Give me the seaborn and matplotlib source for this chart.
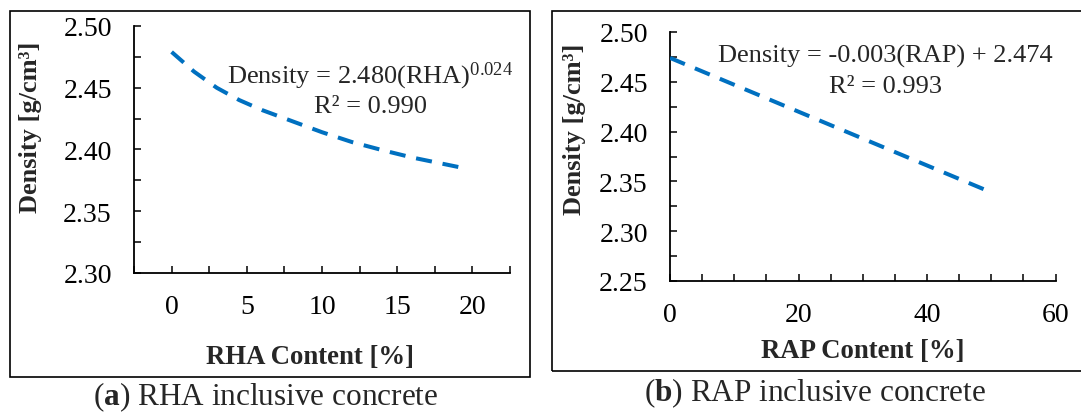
import matplotlib
matplotlib.use('Agg')
import matplotlib.pyplot as plt
from matplotlib.ticker import MultipleLocator, FormatStrFormatter
from matplotlib.patches import Rectangle
import pandas as pd
import seaborn as sns

# (a) RHA fit curve
rha_content = [0, 1.5, 3, 4.5, 6, 8, 10, 12, 14, 16, 18, 19.6]
rha_density = [2.479, 2.463, 2.450, 2.440, 2.432, 2.423, 2.414, 2.406, 2.3995,
               2.3935, 2.3885, 2.3845]

# (b) RAP fit line
rap_content = [0, 10, 20, 30, 40, 50]
rap_density = [2.474, 2.447, 2.420, 2.393, 2.366, 2.339]

rha_df = pd.DataFrame({'RHA Content [%]': rha_content, 'Density': rha_density})
rap_df = pd.DataFrame({'RAP Content [%]': rap_content, 'Density': rap_density})

sns.set_theme(style='ticks')
plt.rcParams['font.family'] = ['Liberation Serif', 'DejaVu Serif']
plt.rcParams['mathtext.fontset'] = 'custom'
plt.rcParams['mathtext.rm'] = 'Liberation Serif'
plt.rcParams['mathtext.bf'] = 'Liberation Serif:bold'
plt.rcParams['mathtext.it'] = 'Liberation Serif:italic'

line_color = '#0070C0'
W, H = 1081, 414
fig = plt.figure(figsize=(W / 100, H / 100), dpi=100)


def px_axes(x0, x1, y0, y1):
    return fig.add_axes([x0 / W, 1 - y1 / H, (x1 - x0) / W, (y1 - y0) / H])


# frames around each panel
fig.patches.append(Rectangle((9.6 / W, 1 - 378 / H), 520.4 / W, 366 / H, transform=fig.transFigure,
                             fill=False, edgecolor='black', linewidth=1.2))
fig.patches.append(Rectangle((552 / W, 1 - 372 / H), 540 / W, 360 / H, transform=fig.transFigure,
                             fill=False, edgecolor='black', linewidth=1.2))

ax1 = px_axes(134, 510, 27, 274)
ax2 = px_axes(670, 1055.5, 33, 282)

sns.lineplot(data=rha_df, x='RHA Content [%]', y='Density', ax=ax1, color=line_color,
             linewidth=2.9, linestyle=(0, (4, 2.7)))
sns.lineplot(data=rap_df, x='RAP Content [%]', y='Density', ax=ax2, color=line_color,
             linewidth=2.9, linestyle=(0, (4, 2.7)))

ax1.set_xlim(-2.5, 22.5)
ax1.set_ylim(2.30, 2.50)
ax1.xaxis.set_major_locator(MultipleLocator(5))
ax1.xaxis.set_minor_locator(MultipleLocator(2.5))
ax1.yaxis.set_major_locator(MultipleLocator(0.05))
ax1.yaxis.set_minor_locator(MultipleLocator(0.025))

ax2.set_xlim(0, 60)
ax2.set_ylim(2.25, 2.50)
ax2.xaxis.set_major_locator(MultipleLocator(20))
ax2.xaxis.set_minor_locator(MultipleLocator(5))
ax2.yaxis.set_major_locator(MultipleLocator(0.05))
ax2.yaxis.set_minor_locator(MultipleLocator(0.025))

for ax in (ax1, ax2):
    sns.despine(ax=ax)
    ax.set_facecolor('none')
    for s in ('left', 'bottom'):
        ax.spines[s].set_color('black')
        ax.spines[s].set_linewidth(1.3)
        ax.spines[s].set_zorder(0.5)
    ax.yaxis.set_major_formatter(FormatStrFormatter('%.2f'))
    ax.tick_params(which='both', direction='in', length=5, width=1.1, color='black',
                   labelsize=20, labelcolor='black')
    ax.tick_params(axis='x', which='both', pad=15)
    ax.tick_params(axis='y', which='both', pad=16)
    ax.set_ylabel('Density [g/cm³]', fontsize=19, fontweight='bold', va='center')

ax1.set_xlabel('RHA Content [%]', fontsize=19.3, fontweight='bold', va='center')
ax2.set_xlabel('RAP Content [%]', fontsize=19.3, fontweight='bold', va='center')
ax1.xaxis.set_label_coords(0.468, -0.340)
ax1.yaxis.set_label_coords(-0.274, 0.595)
ax2.xaxis.set_label_coords(0.501, -0.281)
ax2.yaxis.set_label_coords(-0.248, 0.614)

ax1.text(0.628, 0.802, r'Density = 2.480(RHA)$^{0.024}$', transform=ax1.transAxes,
         ha='center', va='center', fontsize=19)
ax1.text(0.628, 0.676, 'R² = 0.990', transform=ax1.transAxes,
         ha='center', va='center', fontsize=19)
ax2.text(0.558, 0.904, 'Density = -0.003(RAP) + 2.474', transform=ax2.transAxes,
         ha='center', va='center', fontsize=19)
ax2.text(0.558, 0.783, 'R² = 0.993', transform=ax2.transAxes,
         ha='center', va='center', fontsize=19)

fig.text(266 / W, 1 - 397 / H, r'($\mathbf{a}$) RHA inclusive concrete',
         ha='center', va='center', fontsize=22.5)
fig.text(815 / W, 1 - 393 / H, r'($\mathbf{b}$) RAP inclusive concrete',
         ha='center', va='center', fontsize=22.5)

fig.savefig('out.png', dpi=100, facecolor='white')
